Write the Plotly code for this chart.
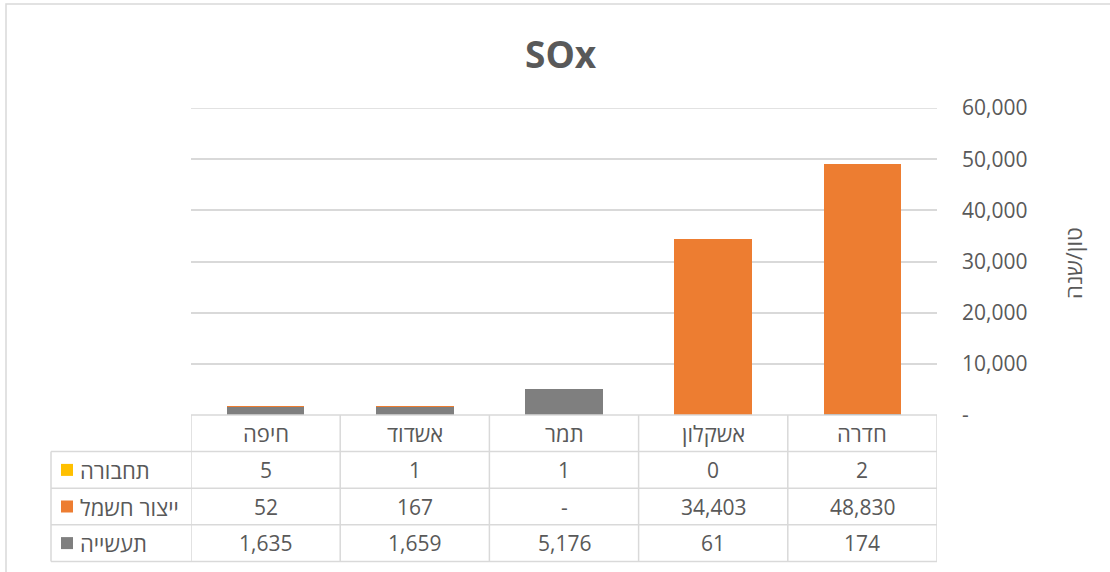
import plotly.graph_objects as go

# ---- data -------------------------------------------------------------
sites = ["חיפה", "אשדוד", "תמר", "אשקלון", "חדרה"]
transport = [5, 1, 1, 0, 2]
power = [52, 167, None, 34403, 48830]
industry = [1635, 1659, 5176, 61, 174]

series_names = ["תחבורה", "ייצור חשמל", "תעשייה"]
series_values = [transport, power, industry]

y_tick_vals = [0, 10000, 20000, 30000, 40000, 50000, 60000]
y_tick_text = ["-", "10,000", "20,000", "30,000", "40,000", "50,000", "60,000"]

title_text = "SOx"
y_title_text = "טון/שנה"

# ---- style ------------------------------------------------------------
W, H = 1110, 572
# alpha just under 1 keeps plotly from padding hairline segments to 1px
COLORS = {"תחבורה": "rgba(255,192,0,0.999)",
          "ייצור חשמל": "rgba(237,125,49,0.999)",
          "תעשייה": "rgba(127,127,127,0.999)"}
KEY_COLORS = {"תחבורה": "#FFC000", "ייצור חשמל": "#ED7D31", "תעשייה": "#7F7F7F"}
TEXT = "#595959"
LINE = "#D9D9D9"
FONT = "Open Sans, Liberation Sans, DejaVu Sans, sans-serif"
FS = 21
FS_HE = 22

PLOT_L, PLOT_R = 191, 937      # plot area, px
PLOT_T, PLOT_B = 108, 415
ROW_H = 36.6
TABLE_L = 51


def px_x(v):
    return v / W


def px_y(v):
    return 1 - v / H


def fmt(v):
    return "-" if v is None else f"{v:,}"


fig = go.Figure()

# stacked columns, bottom to top
for name in reversed(series_names):
    vals = series_values[series_names.index(name)]
    fig.add_bar(
        x=sites,
        y=[0 if v is None else v for v in vals],
        name=name,
        marker=dict(color=COLORS[name], line=dict(width=0)),
        hoverinfo="skip",
    )

shapes = []
annotations = []

# outer chart border
shapes.append(dict(type="rect", xref="paper", yref="paper",
                   x0=px_x(6), x1=px_x(1125), y0=px_y(4), y1=px_y(590),
                   line=dict(color=LINE, width=1.5), layer="below"))

# top gridline (at the range edge)
shapes.append(dict(type="line", xref="paper", yref="y",
                   x0=px_x(PLOT_L), x1=px_x(PLOT_R),
                   y0=y_tick_vals[-1], y1=y_tick_vals[-1],
                   line=dict(color=LINE, width=1.5), layer="below"))

# data table: horizontal rules
row_edges = [PLOT_B + i * ROW_H for i in range(len(series_names) + 2)]
shapes.append(dict(type="line", xref="paper", yref="paper",
                   x0=px_x(PLOT_L), x1=px_x(PLOT_R),
                   y0=px_y(row_edges[0]), y1=px_y(row_edges[0]),
                   line=dict(color=LINE, width=1.5)))
for yy in row_edges[1:]:
    shapes.append(dict(type="line", xref="paper", yref="paper",
                       x0=px_x(TABLE_L), x1=px_x(PLOT_R),
                       y0=px_y(yy), y1=px_y(yy),
                       line=dict(color=LINE, width=1.5)))

# data table: vertical rules on category boundaries
for i in range(len(sites) + 1):
    shapes.append(dict(type="line", xref="x", yref="paper",
                       x0=i - 0.5, x1=i - 0.5,
                       y0=px_y(row_edges[0]), y1=px_y(row_edges[-1]),
                       line=dict(color=LINE, width=1.5)))
shapes.append(dict(type="line", xref="paper", yref="paper",
                   x0=px_x(TABLE_L), x1=px_x(TABLE_L),
                   y0=px_y(row_edges[1]), y1=px_y(row_edges[-1]),
                   line=dict(color=LINE, width=1.5)))

# header row: category names
for s in sites:
    annotations.append(dict(x=s, xref="x", y=px_y(row_edges[0] + ROW_H / 2),
                            yref="paper", text=s, showarrow=False,
                            xanchor="center", yanchor="middle",
                            font=dict(family=FONT, size=FS_HE, color=TEXT)))

# series rows: legend key + name + values
for r, name in enumerate(series_names):
    yc = row_edges[r + 1] + ROW_H / 2
    shapes.append(dict(type="rect", xref="paper", yref="paper",
                       x0=px_x(61), x1=px_x(73),
                       y0=px_y(yc - 6), y1=px_y(yc + 6),
                       fillcolor=KEY_COLORS[name], line=dict(width=0)))
    annotations.append(dict(x=px_x(78), xref="paper", y=px_y(yc), yref="paper",
                            text=name, showarrow=False,
                            xanchor="left", yanchor="middle",
                            font=dict(family=FONT, size=FS_HE, color=TEXT)))
    for s, v in zip(sites, series_values[r]):
        annotations.append(dict(x=s, xref="x", y=px_y(yc), yref="paper",
                                text=fmt(v), showarrow=False,
                                xanchor="center", yanchor="middle",
                                font=dict(family=FONT, size=FS, color=TEXT)))

# title
annotations.append(dict(x=px_x(561), xref="paper", y=px_y(53), yref="paper",
                        text=f"<b>{title_text}</b>", showarrow=False,
                        xanchor="center", yanchor="middle",
                        font=dict(family=FONT, size=37, color=TEXT)))

# value axis title
annotations.append(dict(x=px_x(1073), xref="paper", y=px_y(263), yref="paper",
                        text=y_title_text, showarrow=False, textangle=-90,
                        xanchor="center", yanchor="middle",
                        font=dict(family=FONT, size=FS_HE, color=TEXT)))

fig.update_layout(
    width=W, height=H,
    margin=dict(l=0, r=0, t=0, b=0),
    paper_bgcolor="white", plot_bgcolor="white",
    barmode="stack", bargap=0.48,
    showlegend=False,
    shapes=shapes, annotations=annotations,
    xaxis=dict(domain=[px_x(PLOT_L), px_x(PLOT_R)], type="category",
               categoryorder="array", categoryarray=sites,
               range=[-0.5, len(sites) - 0.5],
               showticklabels=False, showgrid=False, zeroline=False,
               showline=False, ticks="", automargin=False, fixedrange=True),
    yaxis=dict(domain=[px_y(PLOT_B), px_y(PLOT_T)], side="right",
               range=[0, 60000], tickvals=y_tick_vals, ticktext=y_tick_text,
               showgrid=True, gridcolor=LINE, gridwidth=1.5,
               zeroline=False, showline=False, ticks="",
               ticklabelstandoff=24, automargin=False, fixedrange=True,
               tickfont=dict(family=FONT, size=FS, color=TEXT)),
)

fig.write_html("out.html")
